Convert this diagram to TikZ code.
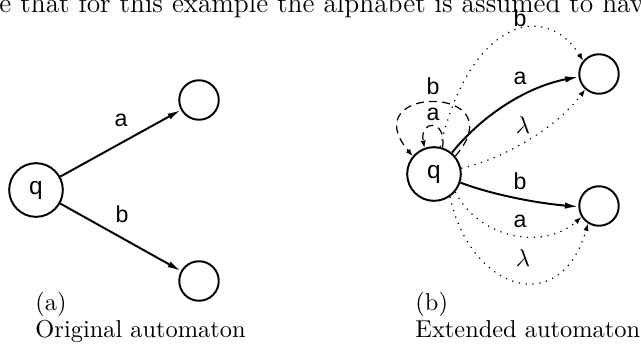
\documentclass[tikz,border=0pt]{standalone}
\usepackage{fontspec}
\newfontfamily\lab{Liberation Sans}
\usetikzlibrary{arrows.meta}
\begin{document}
\begin{tikzpicture}[x=0.41pt,y=-0.41pt,
  state/.style={circle,draw,line width=0.8pt,inner sep=0pt,font=\lab\fontsize{10}{11}\selectfont},
  big/.style={state,minimum size=22pt},
  small/.style={state,minimum size=16.2pt},
  sol/.style={line width=0.8pt,-{Latex[length=5.5pt,width=2.6pt]}},
  dot/.style={line width=0.5pt,dash pattern=on 0.5pt off 2.3pt,-{Latex[length=3pt,width=2.2pt]}},
  dsh/.style={line width=0.5pt,dash pattern=on 3.2pt off 2.2pt},
  dsharr/.style={dsh,-{Latex[length=3pt,width=2.2pt]}},
  lbl/.style={font=\lab\fontsize{9.5}{10}\selectfont,inner sep=0pt},
  lam/.style={font=\fontsize{10}{12}\selectfont,inner sep=0pt},
  captext/.style={font=\fontsize{10}{12}\selectfont,anchor=base west,inner sep=0pt},
  toptext/.style={font=\fontsize{11.25}{13}\selectfont,anchor=base west,inner sep=0pt}]
\useasboundingbox (0,0) rectangle (641,347);
% clipped text line at the top
\node[toptext] (top) at (-1,12) {e that for this example the alphabet is assumed to hav};
% (a) original automaton
\node[big] (q1) at (36,190) {q};
\node[small] (ta) at (199,100) {};
\node[small] (ba) at (199,281) {};
\draw[sol] (q1) -- (ta);
\draw[sol] (q1) -- (ba);
\node[lbl] (la) at (121,120) {a};
\node[lbl] (lb) at (122,214) {b};
\node[captext] (capa1) at (35,310) {(a)};
\node[captext] (capa2) at (35,337) {Original automaton};
% (b) extended automaton
\node[big] (q2) at (434,174) {q};
\node[small] (tb) at (599,74) {};
\node[small] (bb) at (599,206) {};
\draw[sol] (q2.50) .. controls (485,112) and (530,86) .. (tb.188);
\draw[sol] (q2.-18) .. controls (490,194) and (535,203) .. (bb.182);
\draw[dot] (q2.77) .. controls (470,20) and (545,0) .. (tb.140);
\draw[dot] (q2.12) .. controls (500,160) and (555,130) .. (tb.228);
\draw[dot] (q2.-40) .. controls (480,240) and (545,250) .. (bb.212);
\draw[dot] (q2.-55) .. controls (470,290) and (560,320) .. (bb.238);
\draw[dsharr] (q2.40) .. controls (518,84) and (352,84) .. (q2.140);
\draw[dsharr] (q2.72) .. controls (447,119) and (419,119) .. (q2.110);
\node[lbl] (l1) at (520,18) {b};
\node[lbl] (l2) at (520,78) {a};
\node[lam] (l3) at (523,125) {$\lambda$};
\node[lbl] (l4) at (433,86) {b};
\node[lbl] (l5) at (433,114) {a};
\node[lbl] (l6) at (520,181) {b};
\node[lbl] (l7) at (520,221) {a};
\node[lam] (l8) at (523,258) {$\lambda$};
\node[captext] (capb1) at (415,310) {(b)};
\node[captext] (capb2) at (415,337) {Extended automaton};
\end{tikzpicture}
\end{document}
